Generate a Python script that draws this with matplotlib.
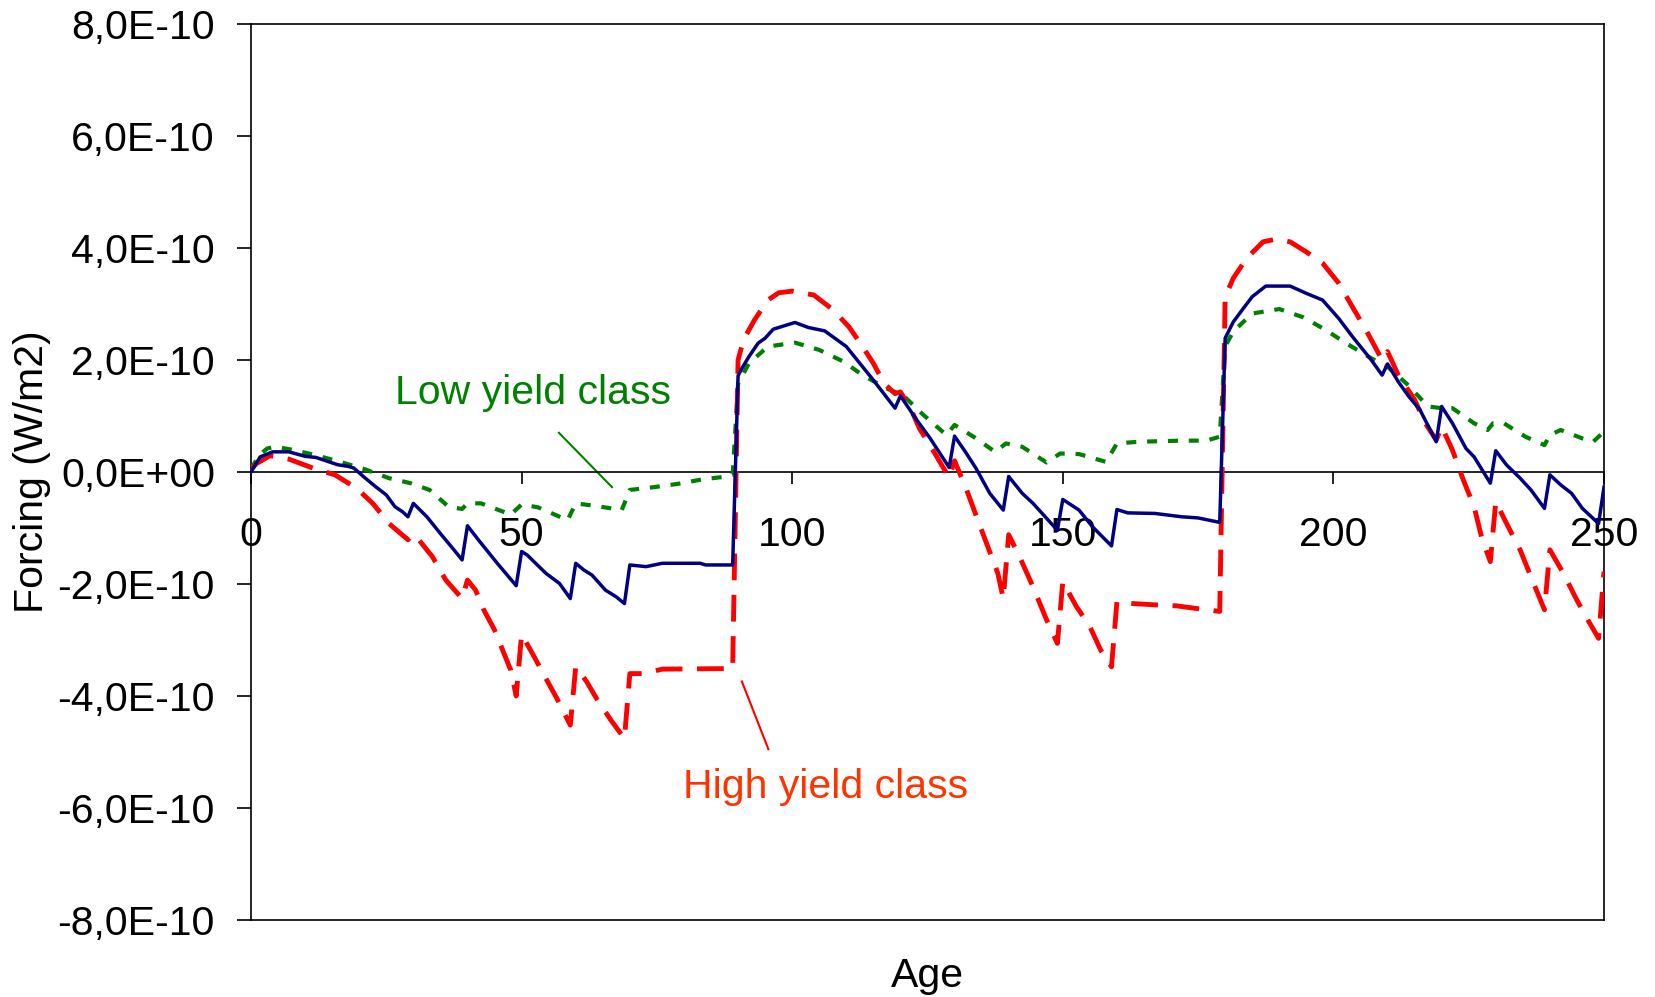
import matplotlib
matplotlib.use("Agg")
import matplotlib.pyplot as plt
from matplotlib.ticker import FuncFormatter
from matplotlib.lines import Line2D

plt.rcParams['font.family'] = ['Liberation Sans', 'DejaVu Sans']

SCALE = 1e-10

# Medium (blue, solid)
age_mid = [0, 1.7, 4, 7, 10, 12, 16, 18, 19, 21, 23, 25, 26.6, 28, 29, 30, 32.5, 35, 37.5, 39, 40, 42, 45.5, 49,
           50, 51, 54.5, 57, 59, 60, 61.5, 63, 65.5, 67.5, 69, 70, 73, 76, 83, 84, 89,
           90, 90.7, 92, 93.7, 95, 96.5, 98.5, 100.5, 103, 106, 110, 115, 119, 120, 123, 125.5, 129, 130,
           132, 134, 136.5, 139, 140, 142.5, 144.5, 149, 150, 153, 155.5, 159, 160, 162, 167, 172, 175, 179,
           180, 181.5, 183.5, 185, 187.5, 192, 195, 198, 201, 203.5, 207, 209, 210, 212, 214, 216, 219, 220,
           222, 224.5, 226, 229, 230, 232, 234.5, 236.5, 239, 240, 242, 244, 246, 249, 250]
forcing_mid = [0, 0.27, 0.36, 0.36, 0.28, 0.26, 0.13, 0.10, 0.07, -0.10, -0.26, -0.41, -0.62, -0.71, -0.80, -0.56,
               -0.80, -1.10, -1.39, -1.57, -0.96, -1.21, -1.63, -2.03,
               -1.42, -1.48, -1.81, -1.99, -2.26, -1.63, -1.75, -1.84, -2.11, -2.23, -2.35, -1.66, -1.69, -1.63,
               -1.63, -1.66, -1.66,
               1.72, 1.85, 2.06, 2.30, 2.39, 2.55, 2.61, 2.67, 2.58, 2.52, 2.24, 1.64, 1.14, 1.36, 0.93, 0.60,
               0.08, 0.64,
               0.36, 0.06, -0.38, -0.68, -0.08, -0.38, -0.56, -1.04, -0.49, -0.68, -0.98, -1.32, -0.67, -0.73,
               -0.74, -0.80, -0.82, -0.90,
               2.39, 2.68, 2.94, 3.13, 3.32, 3.32, 3.19, 3.07, 2.74, 2.42, 2.00, 1.73, 1.93, 1.61, 1.34, 1.11,
               0.54, 1.17,
               0.87, 0.42, 0.27, -0.20, 0.38, 0.125, -0.11, -0.32, -0.65, -0.05, -0.23, -0.38, -0.65, -0.92, -0.27]

# High yield class (red, dashed)
age_high = [0, 1, 3.5, 7, 12, 15.5, 19.5, 22.5, 25.5, 29, 30, 31, 33.5, 36, 39, 40, 41.5, 43, 45, 46.5, 48, 49,
            50, 52, 54, 56.5, 59, 60, 62, 64, 66.5, 69, 70, 72.5, 76, 89,
            90, 91, 93, 95.5, 97.5, 100, 104, 107.5, 110.5, 113, 115, 117, 119, 120, 122, 123.5, 126, 129, 130,
            132, 135, 138, 139, 140, 142, 144.5, 147, 149, 150, 152.5, 155, 157, 159, 160, 163, 168.5, 171,
            176.5, 179,
            180, 181.5, 184, 187, 189.5, 192, 195, 198, 201, 203.5, 206, 209, 210, 212, 215, 217, 219, 220,
            222, 224, 226, 227.5, 229, 230, 232, 234.5, 237, 239, 240, 242.5, 245, 247, 249, 250]
forcing_high = [0.05, 0.15, 0.29, 0.23, 0.05, -0.05, -0.29, -0.56, -0.92, -1.21, -1.11, -1.21, -1.51, -1.93,
                -2.26, -1.93, -2.11, -2.46, -2.82, -3.18, -3.54, -4.00,
                -2.90, -3.24, -3.60, -4.04, -4.52, -3.48, -3.74, -4.07, -4.43, -4.76, -3.60, -3.60, -3.52, -3.51,
                2.00, 2.36, 2.71, 3.07, 3.20, 3.23, 3.16, 2.90, 2.59, 2.24, 1.94, 1.58, 1.40, 1.43, 1.11, 0.78,
                0.39, -0.10, 0.20,
                -0.26, -1.04, -1.81, -2.26, -1.12, -1.51, -2.05, -2.64, -3.06, -1.96, -2.40, -2.76, -3.18,
                -3.48, -2.32, -2.35, -2.38, -2.39, -2.46, -2.49,
                3.13, 3.46, 3.82, 4.11, 4.16, 4.11, 3.93, 3.73, 3.37, 2.95, 2.54, 2.00, 2.15, 1.73, 1.29,
                0.87, 0.57, 0.81,
                0.39, -0.14, -0.62, -1.21, -1.60, -0.53, -0.92, -1.39, -1.99, -2.46, -1.39, -1.81, -2.29,
                -2.64, -2.97, -1.78]

# Low yield class (green, dotted)
age_low = [0, 1.5, 3, 4.5, 7.5, 12, 16.5, 21, 25.5, 29.5, 33, 36.5, 39, 40, 42.5, 48, 50, 53, 58.5, 60, 64,
           68.5, 70, 74.5, 79, 83.5, 88, 89,
           90, 92, 95.5, 100.5, 105, 109.5, 113, 117.5, 120.5, 124, 128.5, 130, 133.5, 137.5, 139.5, 142.5,
           147, 149.5, 153, 158, 160, 164, 172, 176.5, 179,
           180, 181.5, 185, 190, 194.5, 198.5, 202.5, 207, 210, 213.5, 217.5, 220, 222, 226, 228.5, 229.5,
           231.5, 235.5, 239, 240, 242, 246, 248, 250]
forcing_low = [0.05, 0.30, 0.42, 0.45, 0.40, 0.30, 0.18, 0.05, -0.11, -0.20, -0.32, -0.62, -0.66, -0.56, -0.56,
               -0.76, -0.58, -0.63, -0.86, -0.56, -0.61, -0.68, -0.32, -0.27, -0.21, -0.13, -0.08, -0.05,
               1.58, 1.94, 2.24, 2.31, 2.18, 1.97, 1.73, 1.49, 1.37, 1.04, 0.66, 0.84, 0.63, 0.36, 0.51, 0.45,
               0.17, 0.33, 0.32, 0.18, 0.51, 0.54, 0.56, 0.56, 0.63,
               2.24, 2.51, 2.83, 2.91, 2.76, 2.54, 2.29, 2.03, 1.88, 1.58, 1.17, 1.14, 1.14, 0.87, 0.75, 0.87,
               0.87, 0.63, 0.48, 0.66, 0.75, 0.60, 0.54, 0.72]

y_ticks = [-8, -6, -4, -2, 0, 2, 4, 6, 8]
x_ticks = [0, 50, 100, 150, 200, 250]

FS = 29.5

fig = plt.figure(figsize=(16.55, 9.97), dpi=100)
ax = fig.add_axes([251 / 1655, 1 - 920 / 997, (1604 - 251) / 1655, (920 - 24) / 997])

ax.plot(age_low, [v * SCALE for v in forcing_low], color='#008000', lw=3.0,
        dashes=(2.4, 2.6), solid_capstyle='butt', zorder=3)
ax.plot(age_high, [v * SCALE for v in forcing_high], color='#FF0000', lw=3.5,
        dashes=(5.5, 3.0), zorder=4)
ax.plot(age_mid, [v * SCALE for v in forcing_mid], color='#000080', lw=2.5, zorder=5)

ax.set_xlim(0, 250)
ax.set_ylim(-8e-10, 8e-10)
ax.set_yticks([v * SCALE for v in y_ticks])
ax.set_xticks(x_ticks)


def yfmt(v, pos):
    return f"{v:.1E}".replace('.', ',')


ax.yaxis.set_major_formatter(FuncFormatter(yfmt))

for s in ax.spines.values():
    s.set_linewidth(1.2)
ax.spines['bottom'].set_position(('data', 0))
ax.add_line(Line2D([0, 1], [0, 0], transform=ax.transAxes, color='black', lw=1.2, clip_on=False))

ax.tick_params(axis='y', direction='out', length=10, width=1.2, pad=16, labelsize=FS)
ax.tick_params(axis='x', direction='out', length=8.5, width=1.2, pad=23, labelsize=FS)

fig.text(32 / 1655, 1 - 472 / 997, 'Forcing (W/m2)', rotation=90, ha='center', va='center', fontsize=FS)
fig.text(927.5 / 1655, 1 - 987 / 997, 'Age', ha='center', va='baseline', fontsize=FS)

ax.text(26.6, 1.21e-10, 'Low yield class', color='#008000', fontsize=FS, ha='left', va='baseline')
ax.plot([56.9, 66.7], [0.70e-10, -0.27e-10], color='#008000', lw=1.5)
ax.text(79.8, -5.82e-10, 'High yield class', color='#FF3300', fontsize=FS, ha='left', va='baseline')
ax.plot([90.7, 95.6], [-3.74e-10, -4.95e-10], color='#FF0000', lw=1.5)

fig.savefig('out.png', dpi=100)
